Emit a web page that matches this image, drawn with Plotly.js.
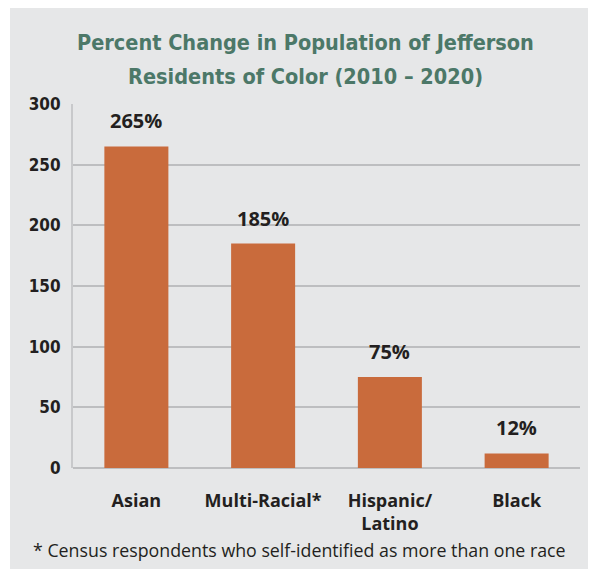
<!DOCTYPE html>
<html>
<head>
<meta charset="utf-8">
<script src="https://cdn.plot.ly/plotly-3.0.1.min.js"></script>
<style>
  html, body { margin: 0; padding: 0; background: #ffffff; }
  #chart { width: 590px; height: 571px; }
</style>
</head>
<body>
<div id="chart"></div>
<script>
// ---- data ----
const categories = ["Asian", "Multi-Racial*", "Hispanic/<br>Latino", "Black"];
const percentChange = [265, 185, 75, 12];
const valueLabels = ["265%", "185%", "75%", "12%"];
const yTicks = [0, 50, 100, 150, 200, 250, 300];
const titleLines = ["Percent Change in Population of Jefferson", "Residents of Color (2010 – 2020)"];
const footnoteText = "* Census respondents who self-identified as more than one race";

// ---- geometry helpers (pixel -> paper) ----
const W = 590, H = 571;
const L = 73, R = 580, T = 104, B = 468;
const px = x => (x - L) / (R - L);
const py = y => (B - y) / (B - T);

const dark = "#231f20";
const boldFont = "'Open Sans', 'Liberation Sans', sans-serif";
const condFont = "'DejaVu Sans Condensed', 'Liberation Sans', sans-serif";

const trace = {
  type: "bar",
  x: categories,
  y: percentChange,
  marker: { color: "#c96b3c" },
  width: 0.505,
  hoverinfo: "none"
};

const valueAnnotations = categories.map((c, i) => ({
  x: c, y: percentChange[i], xref: "x", yref: "y",
  text: "<b>" + valueLabels[i] + "</b>",
  showarrow: false, yanchor: "bottom", yshift: 10,
  font: { family: boldFont, size: 20, color: dark }
}));

const titleAnnotations = titleLines.map((t, i) => ({
  xref: "paper", yref: "paper", x: px(305), y: py(i === 0 ? 43 : 76),
  xanchor: "center", yanchor: "middle",
  text: "<b>" + t + "</b>", showarrow: false,
  font: { family: condFont, size: 21.5, color: "#4c7868" }
}));

const layout = {
  width: W, height: H,
  margin: { l: L, r: W - R, t: T, b: H - B, pad: 0 },
  paper_bgcolor: "#ffffff",
  plot_bgcolor: "rgba(0,0,0,0)",
  showlegend: false,
  bargap: 0.495,
  xaxis: {
    type: "category",
    tickvals: categories,
    ticktext: categories.map(c => "<b>" + c + "</b>"),
    tickfont: { family: boldFont, size: 18, color: dark },
    ticks: "outside", ticklen: 16, tickcolor: "rgba(0,0,0,0)",
    showgrid: false, zeroline: false,
    showline: false,
    fixedrange: true
  },
  yaxis: {
    range: [0, 300],
    tickvals: yTicks,
    ticktext: yTicks.map(v => "<b>" + v + "</b>"),
    tickfont: { family: condFont, size: 17, color: dark },
    ticks: "outside", ticklen: 7, tickcolor: "rgba(0,0,0,0)",
    showgrid: true, gridcolor: "#bdbec0", gridwidth: 2,
    zeroline: true, zerolinecolor: "#bdbec0", zerolinewidth: 2,
    showline: true, linecolor: "#c8c9cb", linewidth: 2,
    fixedrange: true
  },
  shapes: [{
    type: "rect", xref: "paper", yref: "paper", layer: "below",
    x0: px(10), x1: px(588), y0: py(569), y1: py(8),
    fillcolor: "#e6e7e8", line: { width: 0 }
  }],
  annotations: titleAnnotations.concat([
    {
      xref: "paper", yref: "paper", x: px(299), y: py(550),
      xanchor: "center", yanchor: "middle",
      text: footnoteText, showarrow: false,
      font: { family: "'Open Sans', sans-serif", size: 17.8, color: dark }
    }
  ]).concat(valueAnnotations)
};

Plotly.newPlot("chart", [trace], layout, { displayModeBar: false, staticPlot: true });
</script>
</body>
</html>
